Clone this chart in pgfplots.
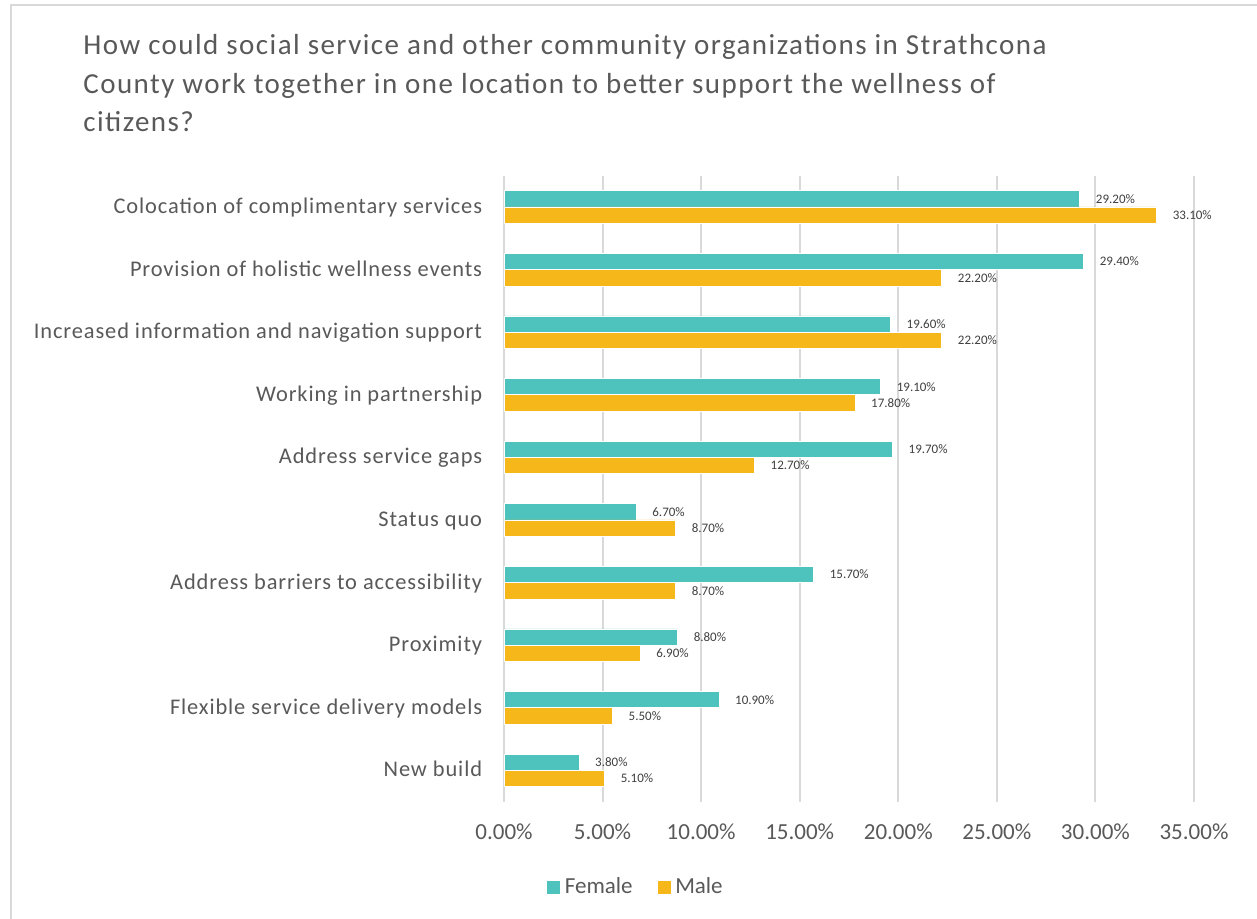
\documentclass[border=0pt]{standalone}
\usepackage{fontspec}
\setmainfont{Carlito}
\usepackage{pgfplots}
\pgfplotsset{compat=1.18}

\definecolor{fem}{HTML}{4EC2BC}
\definecolor{mal}{HTML}{F6B71A}
\definecolor{txt}{HTML}{595959}
\definecolor{grd}{HTML}{D9D9D9}

\newcommand\titlefnt{\fontsize{14.5pt}{17pt}\selectfont\addfontfeatures{LetterSpace=5}}
\newcommand\catfnt{\fontsize{11.2pt}{13pt}\selectfont\addfontfeatures{LetterSpace=4}}

\begin{document}
\begin{tikzpicture}
% canvas: 1px = 0.5pt
\useasboundingbox (0,0) rectangle (628.5pt,459.5pt);
\fill[white] (0,0) rectangle (628.5pt,459.5pt);
\draw[grd, line width=1pt] (5.5pt,0) -- (5.5pt,457pt) -- (628.5pt,457pt);

\node[anchor=base west, text=txt, font=\titlefnt, inner sep=0pt]
  at (41.5pt,432pt) {How could social service and other community organizations in Strathcona};
\node[anchor=base west, text=txt, font=\titlefnt, inner sep=0pt]
  at (41.5pt,412.9pt) {County work together in one location to better support the wellness of};
\node[anchor=base west, text=txt, font=\titlefnt, inner sep=0pt]
  at (41.5pt,393.7pt) {citizens?};

\begin{axis}[
  at={(252pt,58.65pt)}, anchor=south west,
  scale only axis,
  width=345pt, height=313pt,
  xmin=0, xmax=35,
  ymin=-0.5, ymax=9.5,
  xbar, bar width=0.26,
  clip=false,
  axis line style={draw=none},
  tick style={draw=none},
  xmajorgrids, grid style={grd, line width=1pt},
  xtick={0,5,...,35},
  xticklabel={\pgfmathprintnumber[fixed,fixed zerofill,precision=2]{\tick}\%},
  /pgf/number format/assume math mode=true,
  xticklabel style={text=txt, font=\fontsize{11.5pt}{13pt}\selectfont, inner sep=0pt, yshift=-11pt},
  ytick={0,...,9},
  yticklabels={New build\hspace{2.5pt},
    Flexible service delivery models\hspace{2.5pt},
    Proximity\hspace{2.5pt},
    Address barriers to accessibility\hspace{2.5pt},
    Status quo\hspace{2.5pt},
    Address service gaps\hspace{2.5pt},
    Working in partnership,
    Increased information and navigation support\hspace{2.5pt},
    Provision of holistic wellness events\hspace{2.5pt},
    Colocation of complimentary services},
  yticklabel style={text=txt, font=\catfnt, inner sep=0pt,
    anchor=base east, xshift=-6.5pt, yshift=-3.3pt},
  point meta=x,
  nodes near coords={\pgfmathprintnumber[fixed,fixed zerofill,precision=2]{\pgfplotspointmeta}\%},
  nodes near coords style={anchor=west, inner sep=0pt, xshift=8pt,
    text=black!75, font=\fontsize{6.5pt}{7pt}\selectfont},
  legend style={draw=none, fill=none, at={(axis cs:6.72,-1.863)}, anchor=center,
    legend columns=2, text=txt, font=\fontsize{11.5pt}{13pt}\selectfont,
    /tikz/every even column/.append style={column sep=10pt}},
  legend image code/.code={\fill[#1] (0pt,-3.5pt) rectangle (7pt,3.5pt);},
]
\addplot[fill=fem, draw=white, line width=0.3pt, bar shift=0.13] coordinates {
  (29.2,9) (29.4,8) (19.6,7) (19.1,6) (19.7,5)
  (6.7,4) (15.7,3) (8.8,2) (10.9,1) (3.8,0)
};
\addlegendentry{Female}
\addplot[fill=mal, draw=white, line width=0.3pt, bar shift=-0.13] coordinates {
  (33.1,9) (22.2,8) (22.2,7) (17.8,6) (12.7,5)
  (8.7,4) (8.7,3) (6.9,2) (5.5,1) (5.1,0)
};
\addlegendentry{Male}
\end{axis}
\end{tikzpicture}
\end{document}
